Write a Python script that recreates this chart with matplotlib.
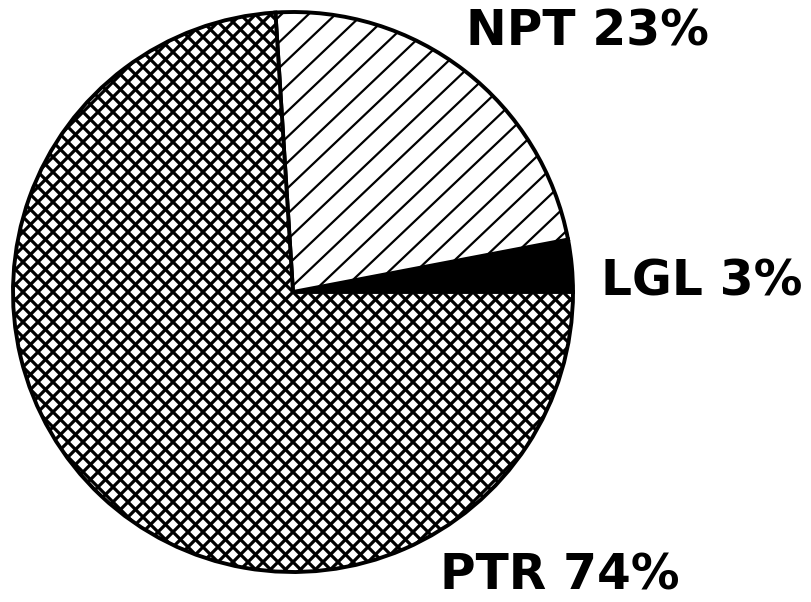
import numpy as np
import matplotlib.pyplot as plt
from matplotlib.collections import LineCollection

# slice data
labels = ['LGL 3%', 'NPT 23%', 'PTR 74%']
values = [3, 23, 74]
fills = ['black', 'white', 'white']

plt.rcParams['font.family'] = ['DejaVu Sans']

fig = plt.figure(figsize=(8.11, 6.02), dpi=100)
ax = fig.add_axes([13 / 811, 30 / 602, 560 / 811, 560 / 602])

wedges, _ = ax.pie(values, startangle=0, counterclock=True, colors=fills,
                   wedgeprops=dict(edgecolor='black', linewidth=2.8))
ax.set_xlim(-1, 1)
ax.set_ylim(-1, 1)
ax.set_aspect('auto')


# hand drawn hatching, the built-in one is too dense for NPT
def hatch_lines(wedge, slopes, step, lw):
    for m in slopes:
        segs = []
        for c in np.arange(-3, 3, abs(m) * step):
            segs.append([(-1.5, -1.5 * m + c), (1.5, 1.5 * m + c)])
        lc = LineCollection(segs, colors='black', linewidths=lw, zorder=2)
        ax.add_collection(lc)
        lc.set_clip_path(wedge)


hatch_lines(wedges[1], [0.95], 27 / 280, 1.6)
hatch_lines(wedges[2], [1.0, -1.0], 15 / 280, 2.3)

# label positions (figure fraction)
label_pos = [(702 / 811, 1 - 281 / 602), (587 / 811, 1 - 32 / 602), (560 / 811, 1 - 576 / 602)]
for txt, (x, y) in zip(labels, label_pos):
    fig.text(x, y, txt, ha='center', va='center', fontsize=35, fontweight='bold')

fig.savefig('out.png', dpi=100)
